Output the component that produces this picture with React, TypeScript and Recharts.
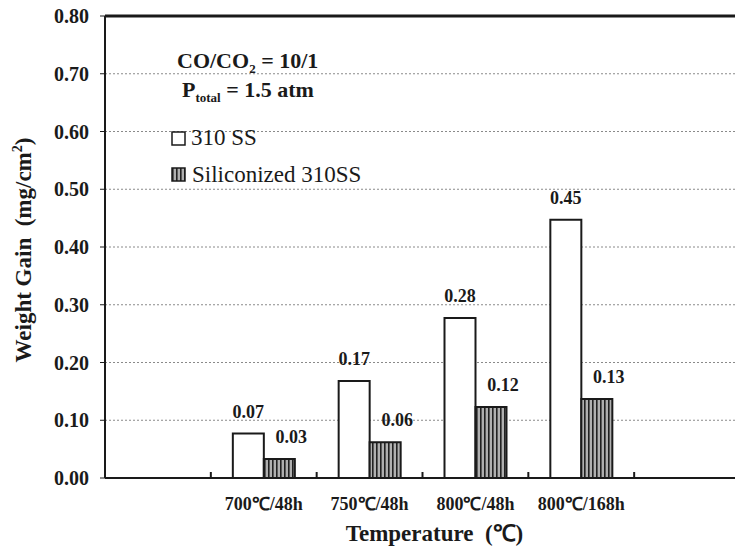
import React from 'react';
import { BarChart, Bar, XAxis, YAxis, CartesianGrid, ReferenceLine, LabelList } from 'recharts';

// categories: first and last slots are empty, as in the original figure
const categories = ['', '700℃/48h', '750℃/48h', '800℃/48h', '800℃/168h', ''];
const ss310 = [null, 0.077, 0.168, 0.277, 0.447, null];
const siliconized = [null, 0.033, 0.062, 0.123, 0.137, null];
const ss310Labels = ['', '0.07', '0.17', '0.28', '0.45', ''];
const siliconizedLabels = ['', '0.03', '0.06', '0.12', '0.13', ''];
const yTicks = [0, 0.1, 0.2, 0.3, 0.4, 0.5, 0.6, 0.7, 0.8];

const FONT = '"Liberation Serif", "Times New Roman", serif';
const INK = '#1a1a1a';

const data = categories.map((cat, i) => ({
    cat,
    ss: ss310[i],
    si: siliconized[i],
    ssLabel: ss310Labels[i],
    siLabel: siliconizedLabels[i],
}));

const CategoryTick = (props: any) => {
    const { x, y, payload, index } = props;
    const half = payload?.offset ?? 0;
    return (
        <g>
            {index > 0 && half > 0 && (
                <line x1={x - half} x2={x - half} y1={y} y2={y - 6} stroke={INK} strokeWidth={2} />
            )}
            <text x={x} y={y + 32} textAnchor="middle" fontFamily={FONT} fontWeight="bold" fontSize={18} fill={INK}>
                {payload.value}
            </text>
        </g>
    );
};

const YTitle = (props: any) => {
    const vb = props.viewBox || {};
    const cy = (vb.y ?? 16) + (vb.height ?? 462) / 2 + 3;
    return (
        <text
            transform={`translate(31, ${cy}) rotate(-90)`}
            textAnchor="middle"
            fontFamily={FONT}
            fontWeight="bold"
            fontSize={23}
            fill={INK}
            style={{ whiteSpace: 'pre' }}
        >
            {'Weight Gain  (mg/cm'}
            <tspan dy={-9} fontSize={14}>2</tspan>
            <tspan dy={9}>)</tspan>
        </text>
    );
};

const XTitle = (props: any) => {
    const vb = props.viewBox || {};
    const cx = (vb.x ?? 105) + (vb.width ?? 635) / 2 + 12;
    return (
        <text x={cx} y={541} textAnchor="middle" fontFamily={FONT} fontWeight="bold" fontSize={23} fill={INK} style={{ whiteSpace: 'pre' }}>
            {'Temperature  (℃)'}
        </text>
    );
};

const valueLabel = (dx: number) => (props: any) => {
    const vb = props.viewBox || {};
    const x = props.x ?? vb.x;
    const y = props.y ?? vb.y;
    const width = props.width ?? vb.width;
    if (!props.value || x == null) return null;
    return (
        <text x={x + width / 2 + dx} y={y - 16} textAnchor="middle" fontFamily={FONT} fontWeight="bold" fontSize={18} fill={INK}>
            {props.value}
        </text>
    );
};

const App: React.FC = () => {
    return (
        <div style={{ position: 'absolute', left: 0, top: 0, width: 735, height: 548, overflow: 'hidden', background: '#fff' }}>
            <BarChart
                width={760}
                height={548}
                data={data}
                margin={{ top: 16, right: 20, left: 0, bottom: 0 }}
                barGap={0}
                style={{ fontFamily: FONT }}
            >
                <CartesianGrid xAxisId="cat" vertical={false} stroke="#8a8a8a" strokeDasharray="2 2" />
                <XAxis
                    xAxisId="cat"
                    dataKey="cat"
                    height={70}
                    interval={0}
                    tickLine={false}
                    tickSize={0}
                    tickMargin={0}
                    axisLine={{ stroke: INK, strokeWidth: 2 }}
                    tick={<CategoryTick />}
                    label={{ content: <XTitle /> }}
                />
                <YAxis
                    width={105}
                    domain={[0, 0.8]}
                    ticks={yTicks}
                    interval={0}
                    tickFormatter={(v: number) => v.toFixed(2)}
                    tick={{ fill: INK, fontSize: 20, fontWeight: 'bold', fontFamily: FONT }}
                    tickSize={5}
                    tickMargin={11}
                    tickLine={{ stroke: INK }}
                    axisLine={{ stroke: INK, strokeWidth: 2 }}
                    label={{ content: <YTitle /> }}
                />
                <ReferenceLine xAxisId="cat" y={0.8} stroke={INK} strokeWidth={3} />
                <Bar xAxisId="cat" dataKey="ss" barSize={31} fill="#ffffff" stroke={INK} strokeWidth={2} isAnimationActive={false}>
                    <LabelList dataKey="ssLabel" content={valueLabel(0)} />
                </Bar>
                <Bar xAxisId="cat" dataKey="si" barSize={31} fill="url(#stripes)" stroke={INK} strokeWidth={2} isAnimationActive={false}>
                    <LabelList dataKey="siLabel" content={valueLabel(12)} />
                </Bar>
            </BarChart>

            {/* annotation + legend drawn over the plot */}
            <svg width={735} height={548} style={{ position: 'absolute', left: 0, top: 0, pointerEvents: 'none' }}>
                <defs>
                    <pattern id="stripes" width={4} height={4} patternUnits="userSpaceOnUse">
                        <rect width={4} height={4} fill="#b0b0b0" />
                        <rect width={1.6} height={4} fill="#222" />
                    </pattern>
                </defs>
                <text x={177} y={68} fontFamily={FONT} fontWeight="bold" fontSize={22} fill={INK} style={{ whiteSpace: 'pre' }}>
                    CO/CO<tspan dy={5} fontSize={13}>2</tspan>
                    <tspan dy={-5}>{' = 10/1'}</tspan>
                </text>
                <text x={182} y={97} fontFamily={FONT} fontWeight="bold" fontSize={22} fill={INK} style={{ whiteSpace: 'pre' }}>
                    P<tspan dy={5} fontSize={13}>total</tspan>
                    <tspan dy={-5}>{' = 1.5 atm'}</tspan>
                </text>
                <rect x={172} y={132} width={13} height={13} fill="#fff" stroke={INK} strokeWidth={1.5} />
                <text x={191} y={145} fontFamily={FONT} fontSize={23} fill={INK}>310 SS</text>
                <rect x={172} y={168} width={13} height={13} fill="url(#stripes)" stroke={INK} strokeWidth={1.5} />
                <text x={192} y={182} fontFamily={FONT} fontSize={23} fill={INK}>Siliconized 310SS</text>
            </svg>
        </div>
    );
};

export default App;
